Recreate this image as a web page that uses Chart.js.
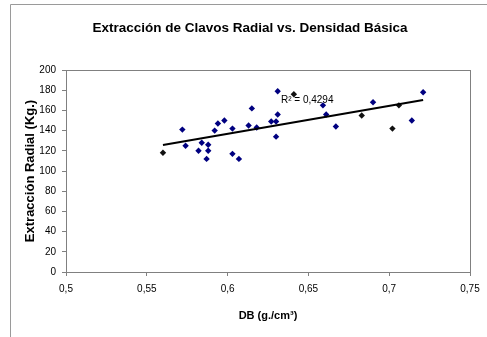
<!DOCTYPE html>
<html>
<head>
<meta charset="utf-8">
<title>Extracción de Clavos Radial vs. Densidad Básica</title>
<script src="https://cdn.jsdelivr.net/npm/chart.js"></script>
<style>
  body { margin: 0; background: #fff; }
</style>
</head>
<body>
<canvas id="chart" width="487" height="337"></canvas>
<script>
// valores (DB en g/cm3, extraccion en Kg.)
const densidad = [0.572, 0.574, 0.582, 0.584, 0.587, 0.588, 0.588, 0.592, 0.594, 0.598,
                  0.603, 0.603, 0.607, 0.613, 0.615, 0.618, 0.627, 0.630, 0.630, 0.631,
                  0.631, 0.659, 0.661, 0.667, 0.690, 0.714, 0.721];
const extraccion = [141, 125, 120, 128, 112, 120, 126, 140, 147, 150,
                    142, 117, 112, 145, 162, 143, 149, 149, 134, 156,
                    179, 165, 156, 144, 168, 150, 178];
// puntos que aparecen en negro
const densidadNegro = [0.560, 0.641, 0.683, 0.702, 0.706];
const extraccionNegro = [118, 176, 155, 142, 165];
// linea de tendencia (extremos)
const tendenciaX = [0.560, 0.721];
const tendenciaY = [125.7, 170.3];
const r2Texto = 'R² = 0,4294';

const xTicks = [0.5, 0.55, 0.6, 0.65, 0.7, 0.75];
const yTicks = [0, 20, 40, 60, 80, 100, 120, 140, 160, 180, 200];

const toPts = (xs, ys) => xs.map((x, i) => ({ x: x, y: ys[i] }));
const fuente = 'Arial, "Liberation Sans", sans-serif';

const extras = {
  id: 'extras',
  beforeDraw(chart) {
    const ctx = chart.ctx;
    ctx.save();
    ctx.fillStyle = '#fff';
    ctx.fillRect(0, 0, chart.width, chart.height);
    // marco exterior
    ctx.strokeStyle = '#9a9a9a';
    ctx.lineWidth = 1;
    ctx.beginPath();
    ctx.moveTo(10.5, 337);
    ctx.lineTo(10.5, 4.5);
    ctx.lineTo(487, 4.5);
    ctx.stroke();
    // titulo
    ctx.fillStyle = '#000';
    ctx.font = 'bold 13.5px ' + fuente;
    ctx.textAlign = 'center';
    ctx.textBaseline = 'middle';
    ctx.fillText('Extracción de Clavos Radial vs. Densidad Básica', 250, 28);
    ctx.restore();
  },
  afterDraw(chart) {
    const ctx = chart.ctx;
    const a = chart.chartArea;
    const xs = chart.scales.x, ys = chart.scales.y;
    ctx.save();
    ctx.strokeStyle = '#808080';
    ctx.lineWidth = 1;
    ctx.strokeRect(Math.round(a.left) + 0.5, Math.round(a.top) + 0.5,
                   Math.round(a.right - a.left), Math.round(a.bottom - a.top));
    ctx.fillStyle = '#000';
    ctx.font = '10px ' + fuente;
    ctx.textAlign = 'left';
    ctx.textBaseline = 'middle';
    ctx.fillText(r2Texto, xs.getPixelForValue(0.633), ys.getPixelForValue(170));
    ctx.restore();
  }
};

new Chart(document.getElementById('chart'), {
  type: 'scatter',
  data: {
    datasets: [
      {
        label: 'Tendencia',
        data: toPts(tendenciaX, tendenciaY),
        showLine: true,
        borderColor: '#000',
        borderWidth: 2,
        pointRadius: 0,
        order: 0
      },
      {
        label: 'Extracción',
        data: toPts(densidad, extraccion),
        pointStyle: 'rectRot',
        pointRadius: 3.2,
        pointBorderWidth: 0,
        backgroundColor: '#000080',
        borderColor: '#000080',
        order: 1
      },
      {
        label: 'Extracción (negro)',
        data: toPts(densidadNegro, extraccionNegro),
        pointStyle: 'rectRot',
        pointRadius: 3.2,
        pointBorderWidth: 0,
        backgroundColor: '#111',
        borderColor: '#111',
        order: 1
      }
    ]
  },
  options: {
    responsive: false,
    animation: false,
    devicePixelRatio: 1,
    layout: { padding: { top: 70, right: 17, bottom: 0, left: 0 } },
    plugins: {
      legend: { display: false },
      title: { display: false },
      tooltip: { enabled: false }
    },
    scales: {
      x: {
        type: 'linear',
        min: 0.5,
        max: 0.75,
        afterBuildTicks: s => { s.ticks = xTicks.map(v => ({ value: v })); },
        afterFit: s => { s.height = 65; },
        ticks: {
          color: '#000',
          padding: 7,
          maxRotation: 0,
          autoSkip: false,
          font: { family: fuente, size: 10 },
          callback: v => String(v).replace('.', ',')
        },
        grid: { drawOnChartArea: false, drawTicks: true, tickLength: 4, color: '#808080' },
        border: { color: '#808080' },
        title: {
          display: true,
          text: 'DB (g./cm³)',
          color: '#000',
          font: { family: fuente, size: 11, weight: 'bold' },
          padding: { top: 0, bottom: 14 }
        }
      },
      y: {
        min: 0,
        max: 200,
        afterBuildTicks: s => { s.ticks = yTicks.map(v => ({ value: v })); },
        afterFit: s => { s.width = 66; },
        ticks: {
          color: '#000',
          padding: 6,
          font: { family: fuente, size: 10 }
        },
        grid: { drawOnChartArea: false, drawTicks: true, tickLength: 4, color: '#808080' },
        border: { color: '#808080' },
        title: {
          display: true,
          text: 'Extracción Radial (Kg.)',
          color: '#000',
          font: { family: fuente, size: 13, weight: 'bold' },
          padding: { top: 23, bottom: 0 }
        }
      }
    }
  },
  plugins: [extras]
});
</script>
</body>
</html>
